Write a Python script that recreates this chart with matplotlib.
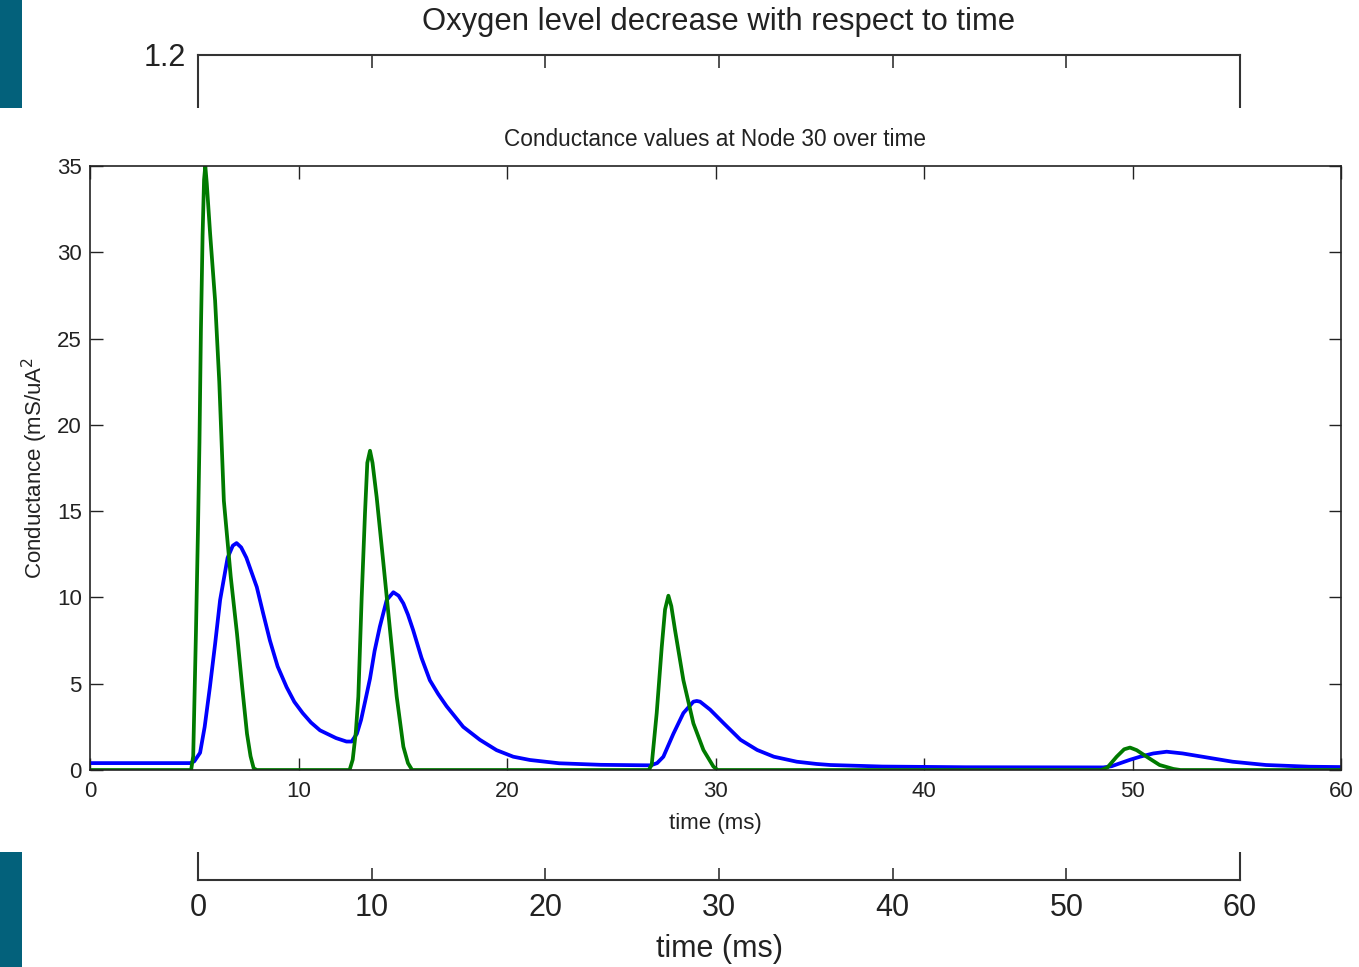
import matplotlib
matplotlib.use("Agg")
import matplotlib.pyplot as plt
from matplotlib.patches import Rectangle

plt.rcParams['font.family'] = ['Liberation Sans', 'DejaVu Sans']

# ---------------- data ----------------
blue_t = [0, 4.8, 5.0, 5.28, 5.5, 5.75, 6.0, 6.24, 6.6, 6.85, 7.03, 7.25, 7.5, 8.0,
          8.3, 8.63, 9.0, 9.43, 9.8, 10.2, 10.6, 11.03, 11.8, 12.3, 12.55, 12.8, 13.0,
          13.2, 13.43, 13.65, 13.9, 14.23,
          14.55, 14.8, 15.03, 15.25, 15.5, 15.9, 16.3, 16.7, 17.1, 17.9, 18.7, 19.5,
          20.3, 21.1, 22.5,
          24.5, 26.9, 27.2, 27.5, 27.98, 28.46, 28.94, 29.1, 29.26, 29.74, 30.4, 31.2,
          32.0, 32.8, 33.9, 34.85, 35.5, 38, 42, 48.6, 49.0, 49.4, 49.9, 50.36, 51.0,
          51.64, 52.4, 53.55, 54.8, 56.4, 58.5, 60]
blue_v = [0.4, 0.4, 0.5, 1.0, 2.5, 4.8, 7.3, 9.85, 12.3, 13.0, 13.15, 12.9, 12.3, 10.6,
          9.1, 7.5, 6.0, 4.8, 3.95, 3.3, 2.75, 2.3, 1.85, 1.65, 1.65, 2.1, 2.9,
          4.0, 5.3, 6.9, 8.3, 9.85,
          10.3, 10.1, 9.65, 9.0, 8.1, 6.5, 5.2, 4.4, 3.7, 2.5, 1.75, 1.15,
          0.77, 0.58, 0.39,
          0.3, 0.27, 0.4, 0.77, 2.1, 3.3, 3.96, 4.0, 3.96, 3.5, 2.7, 1.75,
          1.16, 0.77, 0.48, 0.35, 0.29, 0.2, 0.16, 0.15, 0.22, 0.39, 0.6, 0.77, 0.96,
          1.06, 0.96, 0.73, 0.48, 0.29, 0.19, 0.17]

green_t = [0, 4.85, 4.95, 5.08, 5.18, 5.25, 5.32, 5.4, 5.47, 5.53, 5.6, 5.76, 6.0, 6.2,
           6.42, 6.75, 7.05, 7.3, 7.53, 7.7, 7.85, 8.0,
           12.45, 12.6, 12.75, 12.87, 13.03, 13.19, 13.3, 13.43, 13.55, 13.75, 14.07,
           14.39, 14.71, 15.03, 15.25, 15.45,
           26.8, 26.94, 27.18, 27.42, 27.58, 27.74, 27.88, 28.06, 28.46, 28.94, 29.42,
           29.9, 30.1,
           48.5, 48.8, 49.24, 49.6, 49.88, 50.2, 50.68, 51.3, 51.96, 52.3, 60]
green_v = [0, 0, 0.8, 7.9, 14.0, 19.0, 25.5, 31.0, 34.2, 35.0, 34.0, 31.1, 27.2, 22.5,
           15.6, 11.2, 7.9, 4.8, 2.1, 0.8, 0.1, 0,
           0, 0.6, 2.2, 4.25, 10.0, 14.9, 17.8, 18.5, 17.8, 15.8, 12.0,
           8.1, 4.25, 1.35, 0.4, 0,
           0, 0.3, 3.3, 7.1, 9.3, 10.1, 9.5, 8.1, 5.2, 2.7, 1.16,
           0.2, 0,
           0, 0.15, 0.77, 1.2, 1.3, 1.15, 0.77, 0.29, 0.06, 0, 0]

x_ticks = [0, 10, 20, 30, 40, 50, 60]
y_ticks = [0, 5, 10, 15, 20, 25, 30, 35]
bg_y_ticks = [1.2]

# ---------------- layout ----------------
W, H = 1359, 967
fig = plt.figure(figsize=(W / 100, H / 100), dpi=100)
fig.patch.set_facecolor('white')


def rect(l, t, r, b):
    return [l / W, 1 - b / H, (r - l) / W, (b - t) / H]


# background chart (mostly covered)
bg = fig.add_axes(rect(198, 55, 1240, 880))
bg.set_xlim(0, 60)
bg.set_ylim(0, 1.2)
bg.set_xticks(x_ticks)
bg.set_yticks(bg_y_ticks)
bg.set_yticklabels(['1.2'])
for s in bg.spines.values():
    s.set_color('#333333')
    s.set_linewidth(1.5)
bg.tick_params(direction='in', top=True, right=True, length=9, width=1.2,
               color='#333333', labelsize=22, labelcolor='#222222', pad=9)
bg.set_title('Oxygen level decrease with respect to time', fontsize=22.3,
             color='#222222', y=(880 - 22) / 825, pad=0, va='center')
bg.set_xlabel('time (ms)', fontsize=22, color='#222222', va='center')
bg.xaxis.set_label_coords(0.5, (880 - 949) / 825)

# white overlay
ov = fig.add_axes([0, 1 - 852 / H, 1, (852 - 108) / H])
ov.set_facecolor('white')
ov.set_xticks([])
ov.set_yticks([])
for s in ov.spines.values():
    s.set_visible(False)

# teal side bars
for (t0, b0) in [(0, 108), (852, 967)]:
    fig.patches.append(Rectangle((0, 1 - b0 / H), 22 / W, (b0 - t0) / H,
                                 transform=fig.transFigure, facecolor='#03617B',
                                 edgecolor='none', zorder=10))

# inset chart
ax = fig.add_axes(rect(90, 166, 1341, 770))
ax.plot(blue_t, blue_v, color='#0000FF', linewidth=2.7, solid_joinstyle='round')
ax.plot(green_t, green_v, color='#007A00', linewidth=2.7, solid_joinstyle='round')
ax.set_xlim(0, 60)
ax.set_ylim(0, 35)
ax.set_xticks(x_ticks)
ax.set_yticks(y_ticks)
for s in ax.spines.values():
    s.set_color('#222222')
    s.set_linewidth(1.2)
ax.tick_params(direction='in', top=True, right=True, length=9, width=1,
               color='#222222', labelsize=16, labelcolor='#222222')
ax.tick_params(axis='x', pad=8)
ax.tick_params(axis='y', pad=6)
ax.set_title('Conductance values at Node 30 over time', fontsize=16.3,
             color='#222222', y=(770 - 140) / 604, pad=0, va='center')
ax.set_xlabel('time (ms)', fontsize=16, color='#222222', va='center')
ax.xaxis.set_label_coords(0.5, (770 - 823) / 604)
ax.set_ylabel('Conductance (mS/uA$^2$', fontsize=16, color='#222222',
              va='center', ha='center')
ax.yaxis.set_label_coords((35 - 90) / 1251, 0.5)

fig.savefig('out.png', dpi=100, facecolor='white')
